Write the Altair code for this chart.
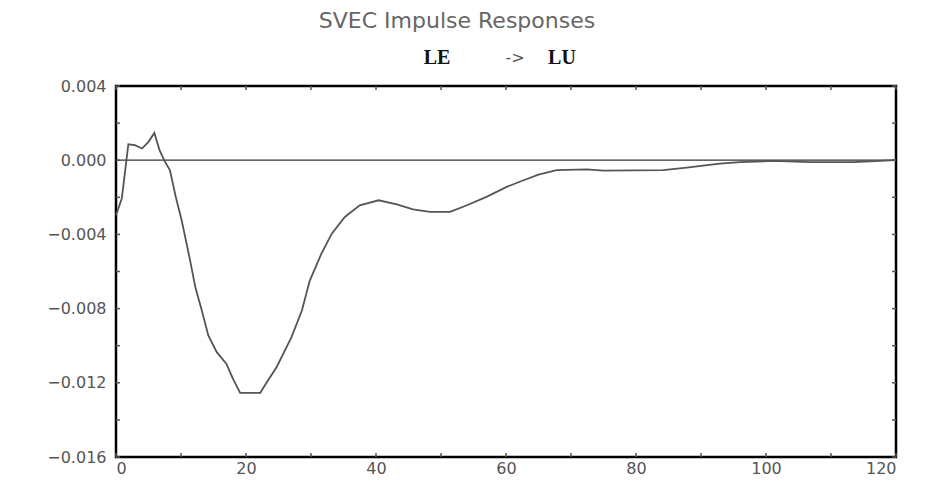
import altair as alt
import pandas as pd

# Impulse response LE -> LU
horizon = [0, 0.9, 1.9, 2.9, 4.0, 5.0, 5.9, 6.7, 7.4, 8.3, 9.2, 10.1, 11.4, 12.2, 13.2,
           14.2, 15.5, 17.0, 18.0, 19.1, 22.2, 23.2, 24.7, 27.0, 28.6, 29.8, 31.6, 33.2,
           35.2, 37.5, 40.4, 43.2, 45.7, 48.3, 51.4, 54.0, 57.0, 60.1, 62.7, 65.0, 67.8,
           72.4, 75.0, 84.2, 87.8, 92.9, 96.0, 101.0, 106.8, 113.4, 120.0]
response = [-0.00297, -0.00205, 0.00086, 0.00081, 0.00063, 0.00099, 0.00147, 0.00054,
            0.0, -0.00054, -0.00198, -0.00324, -0.0054, -0.00684, -0.0081, -0.00945,
            -0.01035, -0.01098, -0.01179, -0.01254, -0.01254, -0.01197, -0.01116,
            -0.00954, -0.0081, -0.00650, -0.00504, -0.00396, -0.00306, -0.00243,
            -0.00216, -0.00238, -0.00265, -0.00279, -0.00279, -0.00243, -0.00198,
            -0.00144, -0.00108, -0.00078, -0.00054, -0.00049, -0.00056, -0.00054,
            -0.00040, -0.00018, -0.00010, -0.00004, -0.00010, -0.00010, 0.0]

x_tick_values = list(range(0, 121, 10))
x_label_values = list(range(0, 121, 20))
y_tick_values = [0.004, 0.002, 0.0, -0.002, -0.004, -0.006, -0.008, -0.010,
                 -0.012, -0.014, -0.016]
y_label_values = [0.004, 0.0, -0.004, -0.008, -0.012, -0.016]

title_text = "SVEC Impulse Responses"
sub_left = "LE"
sub_arrow = "->"
sub_right = "LU"

W, H = 780, 371
xs = alt.Scale(domain=[0, 120], nice=False, zero=False)
ys = alt.Scale(domain=[-0.016, 0.004], nice=False, zero=False)

lab = dict(labelFont="DejaVu Sans", labelFontSize=16, labelColor="#555",
           title=None, grid=False, domain=False, ticks=False)

df = pd.DataFrame({"h": horizon, "r": response})

line = alt.Chart(df).mark_line(color="#555555", strokeWidth=1.8).encode(
    x=alt.X("h:Q", scale=xs, axis=alt.Axis(values=x_label_values, format="d",
                                           labelPadding=3, **lab)),
    y=alt.Y("r:Q", scale=ys, axis=alt.Axis(values=y_label_values, format=".3f",
                                           labelPadding=10, **lab)),
)

zero = alt.Chart(pd.DataFrame({"z": [0.0]})).mark_rule(color="#333", strokeWidth=1.3).encode(
    y=alt.Y("z:Q", scale=ys)
)

xt = pd.DataFrame({"t": x_tick_values})
yt = pd.DataFrame({"t": y_tick_values})
tick_col = "#555"
bottom_ticks = alt.Chart(xt).mark_rule(color=tick_col, strokeWidth=1.5).encode(
    x=alt.X("t:Q", scale=xs), y=alt.value(H), y2=alt.value(H - 4))
top_ticks = alt.Chart(xt).mark_rule(color=tick_col, strokeWidth=1.5).encode(
    x=alt.X("t:Q", scale=xs), y=alt.value(0), y2=alt.value(4))
left_ticks = alt.Chart(yt).mark_rule(color=tick_col, strokeWidth=1.5).encode(
    y=alt.Y("t:Q", scale=ys), x=alt.value(0), x2=alt.value(4))
right_ticks = alt.Chart(yt).mark_rule(color=tick_col, strokeWidth=1.5).encode(
    y=alt.Y("t:Q", scale=ys), x=alt.value(W - 4), x2=alt.value(W))

title = alt.Chart(pd.DataFrame({"s": [title_text]})).mark_text(
    font="DejaVu Sans", fontSize=22, color="#666", align="center", baseline="middle"
).encode(text="s:N", x=alt.value(341), y=alt.value(-65))

sub1 = alt.Chart(pd.DataFrame({"s": [sub_left]})).mark_text(
    font="Liberation Serif", fontSize=20, fontWeight="bold", color="#111",
    align="center", baseline="middle"
).encode(text="s:N", x=alt.value(321), y=alt.value(-28))
sub2 = alt.Chart(pd.DataFrame({"s": [sub_arrow]})).mark_text(
    font="DejaVu Sans", fontSize=16, color="#555", align="center", baseline="middle"
).encode(text="s:N", x=alt.value(399), y=alt.value(-28))
sub3 = alt.Chart(pd.DataFrame({"s": [sub_right]})).mark_text(
    font="Liberation Serif", fontSize=20, fontWeight="bold", color="#111",
    align="center", baseline="middle"
).encode(text="s:N", x=alt.value(446), y=alt.value(-28))

chart = alt.layer(
    zero, bottom_ticks, top_ticks, left_ticks, right_ticks, line, title, sub1, sub2, sub3
).properties(
    width=W, height=H,
    autosize=alt.AutoSizeParams(type="none"),
    padding={"left": 108, "top": 78, "right": 16, "bottom": 19},
    background="white",
).configure_view(stroke="black", strokeWidth=2.5)

chart.save("out.html", embed_options={"renderer": "svg", "actions": False})
